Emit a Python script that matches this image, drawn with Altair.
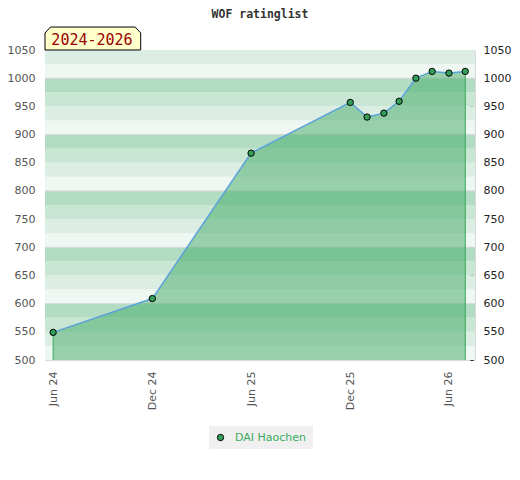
import altair as alt
import pandas as pd

# ---- text ----
title_text = "WOF ratinglist"
period_label = "2024-2026"
player = "DAI Haochen"

# ---- series ----
dates = ["2024-06-01", "2024-12-01", "2025-06-01", "2025-12-01", "2026-01-01",
         "2026-02-01", "2026-03-01", "2026-04-01", "2026-05-01", "2026-06-01",
         "2026-07-01"]
ratings = [549, 609, 867, 957, 931, 938, 959, 1000, 1012, 1009, 1012]

# ---- axes ----
x_tick_months = [(2024, 6), (2024, 12), (2025, 6), (2025, 12), (2026, 6)]
x_domain = [(2024, 5, 17), (2026, 7, 19)]
y_domain = [500, 1050]
y_label_values = [500, 550, 600, 650, 700, 750, 800, 850, 900, 950, 1000, 1050]
y_minor_values = list(range(500, 1051, 10))
grid_values = [600, 700, 800, 900, 1000]

# ---- background bands (25 rating points each, 4 shades per 100) ----
band_starts = list(range(500, 1050, 25))
band_palette = ["#eef7f1", "#dcede3", "#c8e6d3", "#b3ddc3"]

df = pd.DataFrame({"date": dates, "rating": ratings, "player": [player] * len(dates)})
edges = df.iloc[[0, len(df) - 1]]
bands = pd.DataFrame({
    "lo": band_starts,
    "hi": [b + 25 for b in band_starts],
    "fill": [band_palette[(b % 100) // 25] for b in band_starts],
})
grid = pd.DataFrame({"v": grid_values})

FONT = "DejaVu Sans"

x_scale = alt.Scale(type="utc", domain=[alt.DateTime(year=y, month=m, date=d, utc=True) for y, m, d in x_domain])
y_scale = alt.Scale(domain=y_domain, nice=False, zero=False)

x_axis = alt.Axis(
    values=[alt.DateTime(year=y, month=m, date=1, utc=True) for y, m in x_tick_months],
    labelExpr="utcFormat(datum.value, '%b %y')",
    labelAngle=270, labelAlign="right", labelBaseline="middle",
    ticks=False, tickSize=0, domain=False, grid=False,
    labelPadding=11, labelColor="#555", labelFont=FONT, labelFontSize=11,
    labelOverlap=False, title=None,
)
left_axis = alt.Axis(
    orient="left", values=y_label_values, format="d", ticks=False, tickSize=0,
    domain=False, grid=False, labelPadding=10, labelColor="#555", labelFont=FONT,
    labelFontSize=11, labelOverlap=False, title=None,
)
right_axis = alt.Axis(
    orient="right", values=y_minor_values, format="d",
    labelExpr="datum.value % 50 === 0 ? datum.label : ''",
    tickSize=3, offset=-5, tickColor="#222", tickWidth=1, domain=False, grid=False,
    labelPadding=10, labelColor="#222", labelFont=FONT, labelFontSize=11,
    labelOverlap=False, title=None,
)

X = alt.X("date:T", scale=x_scale, axis=x_axis, title=None)

band_layer = alt.Chart(bands).mark_rect().encode(
    y=alt.Y("lo:Q", scale=y_scale, axis=None),
    y2="hi:Q",
    color=alt.Color("fill:N", scale=None, legend=None),
)

grid_layer = alt.Chart(grid).mark_rule(color="#d6d6d6", strokeWidth=1).encode(
    y=alt.Y("v:Q", scale=y_scale, axis=None),
)

area_layer = alt.Chart(df).mark_area(color="#42a965", opacity=0.5).encode(
    x=X,
    y=alt.Y("rating:Q", scale=y_scale, axis=left_axis),
    y2=alt.Y2Datum(500),
)

edge_layer = alt.Chart(edges).mark_rule(color="#36a957", strokeWidth=1).encode(
    x=X,
    y=alt.Y("rating:Q", scale=y_scale, axis=None),
    y2=alt.Y2Datum(500),
)

line_layer = alt.Chart(df).mark_line(color="#5ca2da", strokeWidth=1.5).encode(
    x=X,
    y=alt.Y("rating:Q", scale=y_scale, axis=None),
)

point_layer = alt.Chart(df).mark_point(
    filled=True, size=40, stroke="#000", strokeWidth=1, opacity=1
).encode(
    x=X,
    y=alt.Y("rating:Q", scale=y_scale, axis=right_axis),
    color=alt.Color("player:N", scale=alt.Scale(range=["#33a05a"]),
                    legend=alt.Legend(
                        title=None, orient="none", legendX=164, legendY=376,
                        direction="horizontal", fillColor="#f0f0f0", padding=6,
                        labelColor="#3aaa60", labelFont=FONT, labelFontSize=11,
                        symbolSize=40, symbolStrokeColor="#000", symbolStrokeWidth=1,
                        symbolType="circle", labelOffset=9)),
)

badge_path = "M -1 0.24 L -1 -0.115 L -0.885 -0.24 L 0.885 -0.24 L 1 -0.115 L 1 0.24 Z"
label_df = pd.DataFrame({"t": [period_label]})
badge_box = alt.Chart(label_df).mark_point(
    shape=badge_path, size=9158, filled=True, fill="#ffffcc", stroke="#000",
    strokeWidth=1, opacity=1,
).encode(x=alt.value(47.85), y=alt.value(-11.5))
badge_text = alt.Chart(label_df).mark_text(
    font="DejaVu Sans Mono", fontSize=15, color="#990000", align="center", baseline="middle",
).encode(x=alt.value(47), y=alt.value(-10), text="t:N")

title_df = pd.DataFrame({"t": [title_text]})
title_layer = alt.Chart(title_df).mark_text(
    font="DejaVu Sans Mono", fontSize=11.5, fontWeight="bold", color="#333",
    align="center", baseline="middle",
).encode(x=alt.value(215), y=alt.value(-35.5), text="t:N")

chart = alt.layer(
    band_layer, grid_layer, area_layer, edge_layer, line_layer, point_layer,
    badge_box, badge_text, title_layer,
).resolve_scale(color="independent").resolve_axis(y="independent").properties(
    width=430, height=310,
    padding={"left": 37, "top": 42, "right": 37, "bottom": 100},
    autosize=alt.AutoSizeParams(type="none"),
).configure_view(stroke="#d9d9d9", strokeWidth=1)

chart.save("out.html", embed_options={"renderer": "svg", "actions": False})
